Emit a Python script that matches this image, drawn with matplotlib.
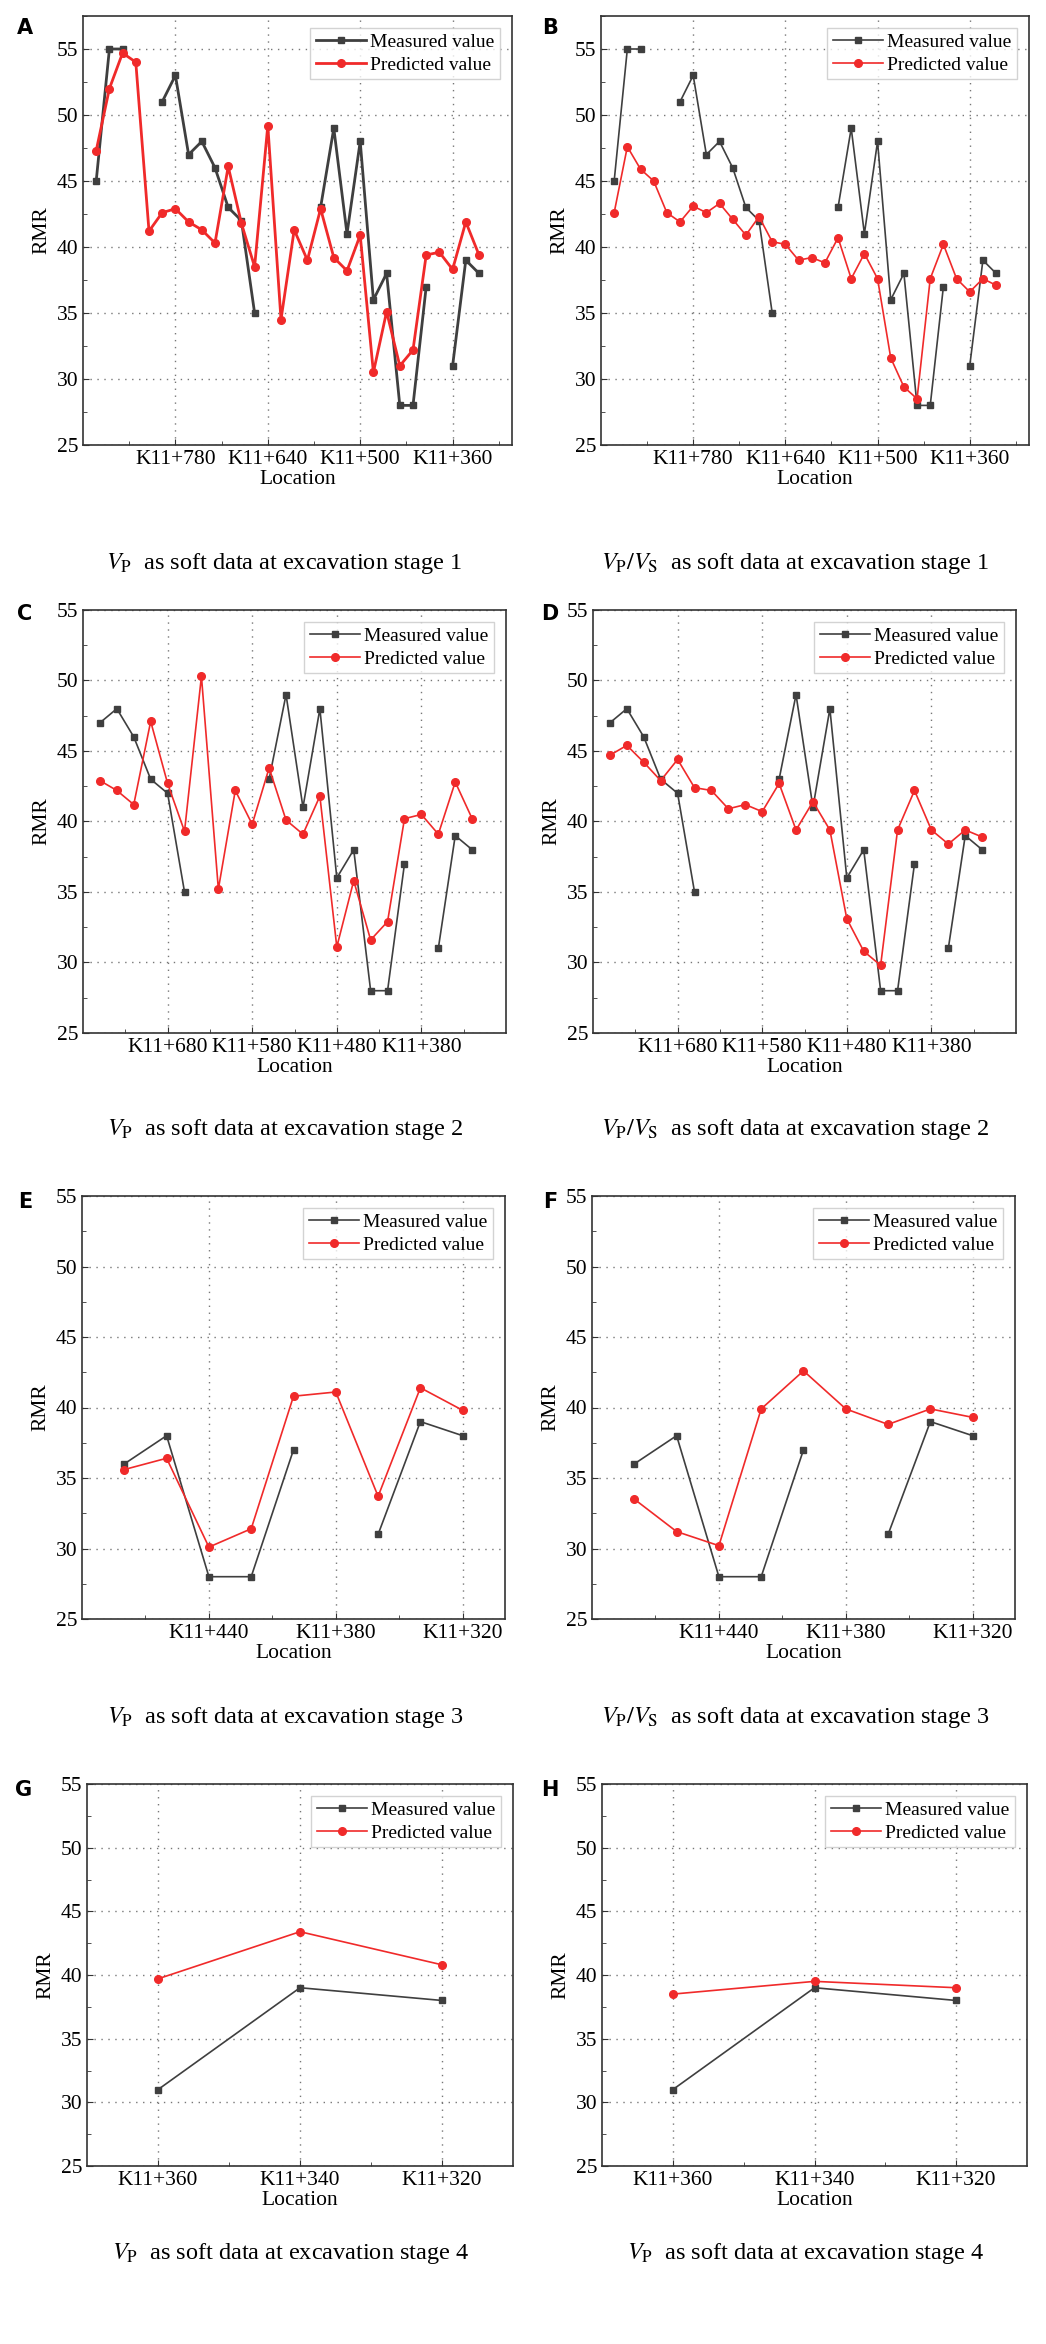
import numpy as np
import matplotlib
matplotlib.use("Agg")
import matplotlib.pyplot as plt
from matplotlib.ticker import MultipleLocator, FixedLocator, FuncFormatter

nan = np.nan

# chainage after K11 (m), measured RMR and predicted RMR for each stage
stations_s1 = [900, 880, 860, 840, 820, 800, 780, 760, 740, 720, 700, 680, 660, 640, 620,
               600, 580, 560, 540, 520, 500, 480, 460, 440, 420, 400, 380, 360, 340, 320]
measured_s1 = [45, 55, 55, nan, nan, 51, 53, 47, 48, 46, 43, 42, 35, nan, nan,
               nan, nan, 43, 49, 41, 48, 36, 38, 28, 28, 37, nan, 31, 39, 38]
pred_vp_s1 = [47.3, 52.0, 54.7, 54.0, 41.2, 42.6, 42.9, 41.9, 41.3, 40.3, 46.1, 41.8, 38.5, 49.2, 34.5,
              41.3, 39.0, 42.9, 39.2, 38.2, 40.9, 30.5, 35.1, 31.0, 32.2, 39.4, 39.6, 38.3, 41.9, 39.4]
pred_vpvs_s1 = [42.6, 47.6, 45.9, 45.0, 42.6, 41.9, 43.1, 42.6, 43.3, 42.1, 40.9, 42.3, 40.4, 40.2, 39.0,
                39.2, 38.8, 40.7, 37.6, 39.5, 37.6, 31.6, 29.4, 28.5, 37.6, 40.2, 37.6, 36.6, 37.6, 37.1]

stations_s2 = [760, 740, 720, 700, 680, 660, 640, 620, 600, 580, 560, 540,
               520, 500, 480, 460, 440, 420, 400, 380, 360, 340, 320]
measured_s2 = [47, 48, 46, 43, 42, 35, nan, nan, nan, nan, 43, 49,
               41, 48, 36, 38, 28, 28, 37, nan, 31, 39, 38]
pred_vp_s2 = [42.9, 42.2, 41.2, 47.1, 42.7, 39.3, 50.3, 35.2, 42.2, 39.8, 43.8, 40.1,
              39.1, 41.8, 31.1, 35.8, 31.6, 32.9, 40.2, 40.5, 39.1, 42.8, 40.2]
pred_vpvs_s2 = [44.7, 45.4, 44.2, 42.9, 44.4, 42.4, 42.2, 40.9, 41.2, 40.7, 42.7, 39.4,
                41.4, 39.4, 33.1, 30.8, 29.8, 39.4, 42.2, 39.4, 38.4, 39.4, 38.9]

stations_s3 = [480, 460, 440, 420, 400, 380, 360, 340, 320]
measured_s3 = [36, 38, 28, 28, 37, nan, 31, 39, 38]
pred_vp_s3 = [35.6, 36.4, 30.1, 31.4, 40.8, 41.1, 33.7, 41.4, 39.8]
pred_vpvs_s3 = [33.5, 31.2, 30.2, 39.9, 42.6, 39.9, 38.8, 39.9, 39.3]

stations_s4 = [360, 340, 320]
measured_s4 = [31, 39, 38]
pred_g_s4 = [39.7, 43.4, 40.8]
pred_h_s4 = [38.5, 39.5, 39.0]

plt.rcParams['font.family'] = ['Liberation Serif', 'DejaVu Serif']
plt.rcParams['mathtext.fontset'] = 'stix'

W, H = 1046, 2344
fig = plt.figure(figsize=(W / 100, H / 100), dpi=100)

GRAY = '#3f3f3f'
RED = '#f02a2a'


def make_axes(l, r, t, b):
  return fig.add_axes([l / W, 1 - b / H, (r - l) / W, (b - t) / H])


def panel(box, stations, meas, pred, xlim, ylim, majors, minors, lw, letter, lx, ly):
  ax = make_axes(*box)
  ax.plot(stations, meas, '-s', color=GRAY, lw=lw, markersize=5, label='Measured value', zorder=3)
  ax.plot(stations, pred, '-o', color=RED, lw=lw, markersize=5.5, label='Predicted value', zorder=4)
  ax.set_xlim(*xlim)
  ax.set_ylim(*ylim)
  ax.xaxis.set_major_locator(FixedLocator(majors))
  ax.xaxis.set_minor_locator(FixedLocator(minors))
  ax.xaxis.set_major_formatter(FuncFormatter(lambda v, p: 'K11+%d' % round(v)))
  ax.yaxis.set_major_locator(MultipleLocator(5))
  ax.yaxis.set_minor_locator(MultipleLocator(2.5))
  ax.grid(True, which='major', linestyle=(0, (1, 4)), color='#777777', lw=1.0)
  ax.tick_params(which='both', direction='in', labelsize=15.5, color='#333333')
  ax.tick_params(which='major', length=4)
  ax.tick_params(which='minor', length=3)
  for s in ax.spines.values():
    s.set_color('#333333')
    s.set_linewidth(1.2)
  ax.set_xlabel('Location', fontsize=15.5, labelpad=1)
  ax.set_ylabel('RMR', fontsize=15.5, labelpad=4)
  leg = ax.legend(loc='upper right', fontsize=14, frameon=True, fancybox=False,
                  handlelength=2.6, borderaxespad=0.6, handletextpad=0.2,
                  labelspacing=0.25, borderpad=0.3)
  leg.get_frame().set_edgecolor('#c8c8c8')
  leg.get_frame().set_linewidth(1.0)
  fig.text(lx / W, 1 - ly / H, letter, family='DejaVu Sans', weight='bold',
           fontsize=15, ha='center', va='center')
  return ax


major_s1 = [780, 640, 500, 360]
minor_s1 = [850, 710, 570, 430, 290]
panel((83, 512, 16, 445), stations_s1, measured_s1, pred_vp_s1, (920, 270), (25, 57.5),
      major_s1, minor_s1, 2.0, 'A', 25, 28)
panel((601, 1029, 16, 445), stations_s1, measured_s1, pred_vpvs_s1, (920, 270), (25, 57.5),
      major_s1, minor_s1, 1.2, 'B', 550, 28)

major_s2 = [680, 580, 480, 380]
minor_s2 = [730, 630, 530, 430, 330]
panel((83, 506, 610, 1033), stations_s2, measured_s2, pred_vp_s2, (780, 280), (25, 55),
      major_s2, minor_s2, 1.2, 'C', 25, 614)
panel((593, 1016, 610, 1033), stations_s2, measured_s2, pred_vpvs_s2, (780, 280), (25, 55),
      major_s2, minor_s2, 1.2, 'D', 550, 614)

major_s3 = [440, 380, 320]
minor_s3 = [470, 410, 350]
panel((82, 505, 1196, 1619), stations_s3, measured_s3, pred_vp_s3, (500, 300), (25, 55),
      major_s3, minor_s3, 1.2, 'E', 25, 1202)
panel((592, 1015, 1196, 1619), stations_s3, measured_s3, pred_vpvs_s3, (500, 300), (25, 55),
      major_s3, minor_s3, 1.2, 'F', 550, 1202)

major_s4 = [360, 340, 320]
minor_s4 = [350, 330]
panel((87, 513, 1784, 2166), stations_s4, measured_s4, pred_g_s4, (370, 310), (25, 55),
      major_s4, minor_s4, 1.2, 'G', 24, 1790)
panel((602, 1027, 1784, 2166), stations_s4, measured_s4, pred_h_s4, (370, 310), (25, 55),
      major_s4, minor_s4, 1.2, 'H', 550, 1790)

captions = [
  (284, 563, r'$V_{\mathrm{P}}$  as soft data at excavation stage 1'),
  (795, 563, r'$V_{\mathrm{P}}/V_{\mathrm{S}}$  as soft data at excavation stage 1'),
  (285, 1130, r'$V_{\mathrm{P}}$  as soft data at excavation stage 2'),
  (795, 1130, r'$V_{\mathrm{P}}/V_{\mathrm{S}}$  as soft data at excavation stage 2'),
  (285, 1717, r'$V_{\mathrm{P}}$  as soft data at excavation stage 3'),
  (795, 1717, r'$V_{\mathrm{P}}/V_{\mathrm{S}}$  as soft data at excavation stage 3'),
  (290, 2253, r'$V_{\mathrm{P}}$  as soft data at excavation stage 4'),
  (805, 2253, r'$V_{\mathrm{P}}$  as soft data at excavation stage 4'),
]
for cx, cy, txt in captions:
  fig.text(cx / W, 1 - cy / H, txt, fontsize=17.5, ha='center', va='center')

fig.savefig('out.png', dpi=100)
